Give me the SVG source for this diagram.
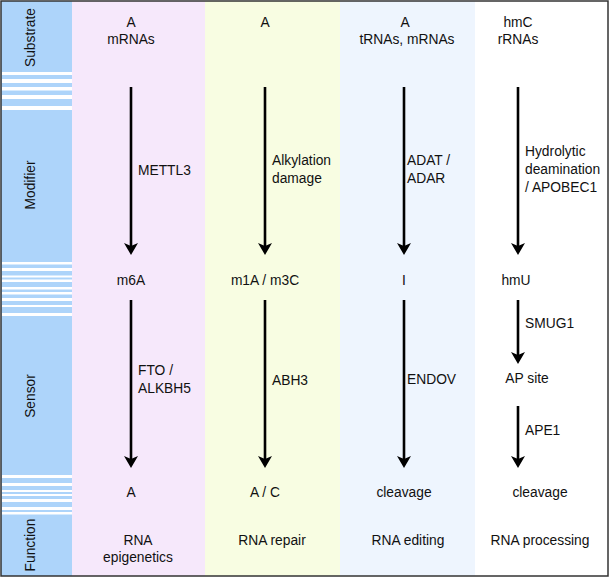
<svg xmlns="http://www.w3.org/2000/svg" width="610" height="578" viewBox="0 0 610 578">
<defs>
<style>
text{font-family:"Liberation Sans",Arial,sans-serif;font-size:13.8px;fill:#111;}
.c{text-anchor:middle;}
.arr{stroke:#000;stroke-width:2.6;fill:none;marker-end:url(#ah);}
.st{fill:#fff;}
</style>
<marker id="ah" viewBox="0 0 12 14" markerWidth="12" markerHeight="14" refX="5" refY="7" markerUnits="userSpaceOnUse" orient="auto">
<path d="M0,0 L12,7 L0,14 L3,7 Z" fill="#000"/>
</marker>
</defs>
<rect x="0" y="0" width="610" height="578" fill="#fff"/>
<g id="sidebar">
<rect x="1" y="1" width="71" height="575" fill="#add4fa"/>
<g class="st">
<rect x="2" y="72" width="70" height="3"/><rect x="2" y="79" width="70" height="4"/><rect x="2" y="87" width="70" height="3.5"/><rect x="2" y="95" width="70" height="4"/><rect x="2" y="106" width="70" height="4"/>
<rect x="2" y="262" width="70" height="2.5"/><rect x="2" y="268" width="70" height="3"/><rect x="2" y="275.5" width="70" height="2"/><rect x="2" y="279.5" width="70" height="2.5"/><rect x="2" y="287" width="70" height="2.5"/><rect x="2" y="292" width="70" height="2.5"/><rect x="2" y="298" width="70" height="3"/><rect x="2" y="305" width="70" height="2"/><rect x="2" y="313" width="70" height="3"/>
<rect x="2" y="475" width="70" height="3"/><rect x="2" y="483" width="70" height="3"/><rect x="2" y="490" width="70" height="2"/><rect x="2" y="494" width="70" height="2"/><rect x="2" y="499" width="70" height="3"/><rect x="2" y="507" width="70" height="3"/><rect x="2" y="512" width="70" height="2.5"/>
</g>
<text class="c" transform="translate(35,37.5) rotate(-90)">Substrate</text>
<text class="c" transform="translate(35,185) rotate(-90)">Modifier</text>
<text class="c" transform="translate(35,396) rotate(-90)">Sensor</text>
<text class="c" transform="translate(35,545) rotate(-90)">Function</text>
</g>
<g id="columns">
<rect x="72" y="1" width="133" height="575" fill="#f6e8fb"/>
<rect x="205" y="1" width="135" height="575" fill="#f8fde2"/>
<rect x="340" y="1" width="135" height="575" fill="#eef5fe"/>
<rect x="475" y="1" width="132" height="575" fill="#fff"/>
</g>
<g id="connectors">
<line class="arr" x1="131" y1="87" x2="131" y2="248"/>
<line class="arr" x1="265" y1="87" x2="265" y2="248"/>
<line class="arr" x1="404" y1="87" x2="404" y2="248"/>
<line class="arr" x1="518" y1="87" x2="518" y2="248"/>
<line class="arr" x1="131" y1="300" x2="131" y2="461"/>
<line class="arr" x1="265" y1="300" x2="265" y2="461"/>
<line class="arr" x1="404" y1="300" x2="404" y2="461"/>
<line class="arr" x1="518" y1="300" x2="518" y2="357"/>
<line class="arr" x1="518" y1="406" x2="518" y2="461"/>
<text x="138" y="175">METTL3</text>
<text x="272" y="165">Alkylation</text><text x="272" y="183">damage</text>
<text x="407" y="165">ADAT /</text><text x="407" y="183">ADAR</text>
<text x="525" y="156">Hydrolytic</text><text x="525" y="174">deamination</text><text x="525" y="192">/ APOBEC1</text>
<text x="138" y="375">FTO /</text><text x="138" y="393">ALKBH5</text>
<text x="272" y="385">ABH3</text>
<text x="407" y="384">ENDOV</text>
<text x="525" y="328">SMUG1</text>
<text x="525" y="435">APE1</text>
</g>
<g id="n-substrate">
<text class="c" x="131" y="27">A</text><text class="c" x="131" y="44">mRNAs</text>
<text class="c" x="265" y="27">A</text>
<text class="c" x="405" y="27">A</text><text class="c" x="407" y="44">tRNAs, mRNAs</text>
<text class="c" x="518" y="27">hmC</text><text class="c" x="518" y="44">rRNAs</text>
</g>
<g id="n-mid">
<text class="c" x="131" y="285">m6A</text>
<text class="c" x="265" y="285">m1A / m3C</text>
<text class="c" x="404" y="285">I</text>
<text class="c" x="516" y="285">hmU</text>
<text class="c" x="527" y="383">AP site</text>
</g>
<g id="n-bottom">
<text class="c" x="131" y="497">A</text>
<text class="c" x="265" y="497">A / C</text>
<text class="c" x="404" y="497">cleavage</text>
<text class="c" x="540" y="497">cleavage</text>
</g>
<g id="n-function">
<text class="c" x="138" y="545">RNA</text><text class="c" x="138" y="562">epigenetics</text>
<text class="c" x="272" y="545">RNA repair</text>
<text class="c" x="408" y="545">RNA editing</text>
<text class="c" x="540" y="545">RNA processing</text>
</g>
<rect x="1" y="1" width="607" height="575" fill="none" stroke="#333" stroke-width="1.5"/>
</svg>
